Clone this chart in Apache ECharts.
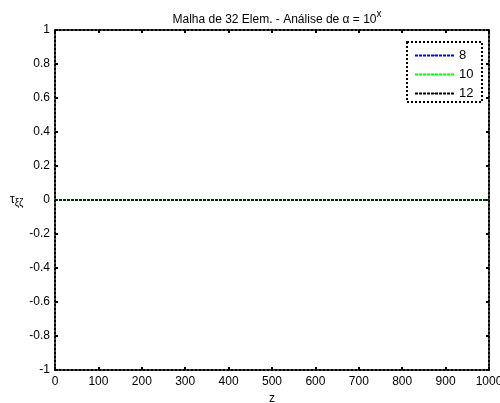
<!DOCTYPE html>
<html><head><meta charset="utf-8">
<script src="https://cdn.jsdelivr.net/npm/echarts@6/dist/echarts.min.js"></script>
<style>html,body{margin:0;padding:0;background:#fff;overflow:hidden}#c{width:500px;height:403px}</style>
</head><body><div id="c"></div>
<script>
var zValues = [0, 100, 200, 300, 400, 500, 600, 700, 800, 900, 1000];
var series8 = [0, 0, 0, 0, 0, 0, 0, 0, 0, 0, 0];
var series10 = [0, 0, 0, 0, 0, 0, 0, 0, 0, 0, 0];
var series12 = [0, 0, 0, 0, 0, 0, 0, 0, 0, 0, 0];
var seriesNames = ['8', '10', '12'];
var seriesColors = ['#0000ff', '#00ff00', '#000000'];

function pairs(v){ return zValues.map(function(z,i){return [z, v[i]];}); }
var font = 'Liberation Sans, Arial, sans-serif';
var chart = echarts.init(document.getElementById('c'), null, {renderer:'canvas', width:500, height:403});
var axLine = {show:true, onZero:false, lineStyle:{color:'#000', width:2, type:'dotted'}};
var tick = {show:true, inside:true, length:3, lineStyle:{color:'#000', width:2}};
var lbl = {color:'#000', fontFamily:font, fontSize:12};
var vals = [series8, series10, series12];
chart.setOption({
  animation:false,
  backgroundColor:'#fff',
  title:{
    text:'{t|Malha de 32 Elem. - Análise de α = 10}{s|x}',
    left:272, top:4, textAlign:'center',
    textStyle:{fontWeight:'normal', rich:{t:{fontFamily:font, fontSize:12, fontWeight:'normal', color:'#000', padding:[5,0,0,0]}, s:{fontFamily:font, fontSize:10, fontWeight:'normal', color:'#000', verticalAlign:'top', padding:[0,0,6,0]}}}
  },
  grid:{left:55, right:11, top:30, bottom:33, containLabel:false, outerBoundsMode:'none'},
  legend:{
    left:408, top:43, orient:'vertical', itemWidth:40, itemHeight:2, itemGap:6,
    padding:[6,6,4,6], backgroundColor:'#fff',
    textStyle:{fontFamily:font, fontSize:13, color:'#000', padding:[0,0,0,-1]},
    data:seriesNames
  },
  graphic:[{type:'rect', shape:{x:407, y:42, width:75, height:60}, style:{fill:null, stroke:'#000', lineWidth:2, lineDash:[2,2]}, z:100}],
  xAxis:[
    {type:'value', min:0, max:1000, interval:100, position:'bottom', axisLine:axLine, axisTick:tick, splitLine:{show:false},
     axisLabel:Object.assign({margin:6, formatter:function(v){return String(v);}}, lbl),
     name:'z', nameLocation:'middle', nameGap:21, nameTextStyle:{fontFamily:font, fontSize:12, color:'#000'}},
    {type:'value', min:0, max:1000, interval:100, position:'top', axisLine:axLine, axisTick:tick, splitLine:{show:false}, axisLabel:{show:false}}
  ],
  yAxis:[
    {type:'value', min:-1, max:1, interval:0.2, position:'left', axisLine:axLine, axisTick:tick, splitLine:{show:false},
     axisLabel:Object.assign({margin:5, formatter:function(v){return +v.toFixed(1)+'';}}, lbl),
     name:'{a|τ}{b|ξζ}', nameLocation:'middle', nameGap:30, nameRotate:0,
     nameTextStyle:{rich:{a:{fontFamily:font, fontSize:12, color:'#000'}, b:{fontFamily:font, fontSize:10, color:'#000', verticalAlign:'bottom', padding:[6,0,0,0]}}}},
    {type:'value', min:-1, max:1, interval:0.2, position:'right', axisLine:axLine, axisTick:tick, splitLine:{show:false}, axisLabel:{show:false}}
  ],
  series: seriesNames.map(function(n,i){
    return {name:n, type:'line', data:pairs(vals[i]), symbol:'none', color:seriesColors[i],
      lineStyle:{color:seriesColors[i], width:1.5, type:[3,1]}, z:10+i};
  })
});
</script></body></html>
